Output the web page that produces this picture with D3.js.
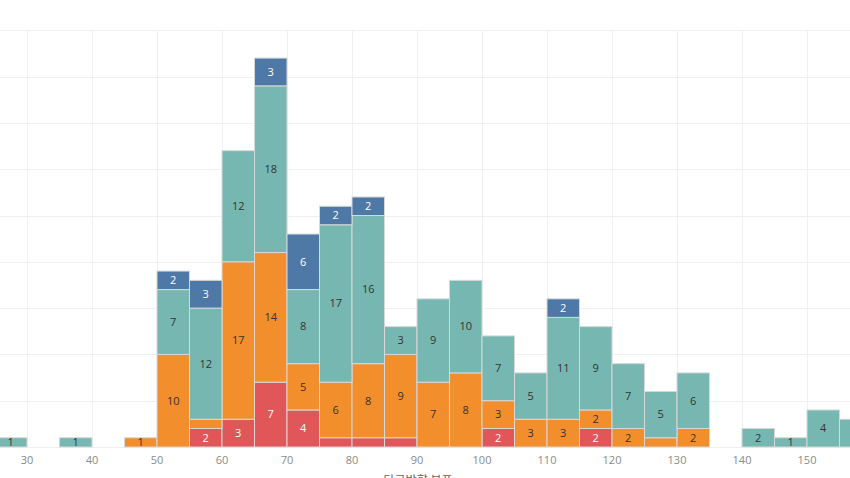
<!DOCTYPE html>
<html><head><meta charset="utf-8">
<script src="https://cdn.jsdelivr.net/npm/d3@7"></script>
<style>body{margin:0;background:#fff;overflow:hidden}svg{display:block}</style>
</head><body>
<svg id="c" width="850" height="478"></svg>
<script>
const binStart = [25,35,45,50,55,60,65,70,75,80,85,90,95,100,105,110,115,120,125,130,140,145,150,155];
const red    = [0,0,0,0,2,3,7,4,1,1,1,0,0,2,0,0,2,0,0,0,0,0,0,0];
const orange = [0,0,1,10,1,17,14,5,6,8,9,7,8,3,3,3,2,2,1,2,0,0,0,0];
const teal   = [1,1,0,7,12,12,18,8,17,16,3,9,10,7,5,11,9,7,5,6,2,1,4,3];
const blue   = [0,0,0,2,3,0,3,6,2,2,0,0,0,0,0,2,0,0,0,0,0,0,0,0];
const gridX  = [20,30,40,50,60,70,80,90,100,110,120,130,140,150,160];
const xTickLabels = [30,40,50,60,70,80,90,100,110,120,130,140,150];
const yTicks = [0,5,10,15,20,25,30,35,40,45];
const binWidth = 5;
const axisTitle = "타구방향 분포";

const keys = ["red","orange","teal","blue"];
const colors = {red:"#e15759", orange:"#f28e2b", teal:"#76b7b2", blue:"#4e79a7"};
const textColors = {red:"#ffffff", orange:"#333333", teal:"#333333", blue:"#ffffff"};
const table = binStart.map((b,i)=>({bin:b, red:red[i], orange:orange[i], teal:teal[i], blue:blue[i]}));

const W = 850;
const svg = d3.select("#c");
const x = d3.scaleLinear().domain([30,150]).range([27,807]);
const y = d3.scaleLinear().domain([0,45]).range([447,30.3]);
const font = "'Open Sans', 'Noto Sans', sans-serif";

// gridlines
svg.append("g").selectAll("line").data(yTicks).join("line")
  .attr("x1",0).attr("x2",W).attr("y1",d=>Math.round(y(d))+0.5).attr("y2",d=>Math.round(y(d))+0.5)
  .attr("stroke","#f0f0f0").attr("stroke-width",1);
svg.append("g").selectAll("line").data(gridX).join("line")
  .attr("x1",d=>Math.round(x(d))+0.5).attr("x2",d=>Math.round(x(d))+0.5)
  .attr("y1",y(45)).attr("y2",y(0))
  .attr("stroke","#f0f0f0").attr("stroke-width",1);

const series = d3.stack().keys(keys)(table);
const bw = x(binWidth) - x(0);
const g = svg.append("g");
series.forEach(s=>{
  g.append("g").selectAll("rect").data(s.filter(d=>d[1]-d[0]>0)).join("rect")
    .attr("x",d=>x(d.data.bin)).attr("width",bw)
    .attr("y",d=>y(d[1])).attr("height",d=>y(d[0])-y(d[1]))
    .attr("fill",colors[s.key]).attr("stroke","#d8d8d8").attr("stroke-width",1);
});

// labels (only those whose centre falls inside the view)
series.forEach(s=>{
  g.append("g").selectAll("text").data(s.filter(d=>{
      const v=d[1]-d[0];
      const total = keys.reduce((a,k)=>a+d.data[k],0);
      const cx = x(d.data.bin+binWidth/2);
      return (v>=2 || (v>0 && total===v)) && cx > 4 && cx < W-4;
    })).join("text")
    .attr("x",d=>x(d.data.bin+binWidth/2))
    .attr("y",d=>(y(d[0])+y(d[1]))/2)
    .attr("dy","0.35em").attr("text-anchor","middle")
    .attr("font-family",font).attr("font-size",11)
    .attr("fill",textColors[s.key])
    .text(d=>d[1]-d[0]);
});

// x axis tick labels
svg.append("g").selectAll("text").data(xTickLabels).join("text")
  .attr("x",d=>x(d)).attr("y",464).attr("text-anchor","middle")
  .attr("font-family",font).attr("font-size",11).attr("fill","#8a8a8a")
  .text(d=>d);

svg.append("text").attr("x",418).attr("y",485).attr("text-anchor","middle")
  .attr("font-family","'Noto Sans CJK KR', sans-serif").attr("font-size",12).attr("fill","#666")
  .text(axisTitle);
</script>
</body></html>
